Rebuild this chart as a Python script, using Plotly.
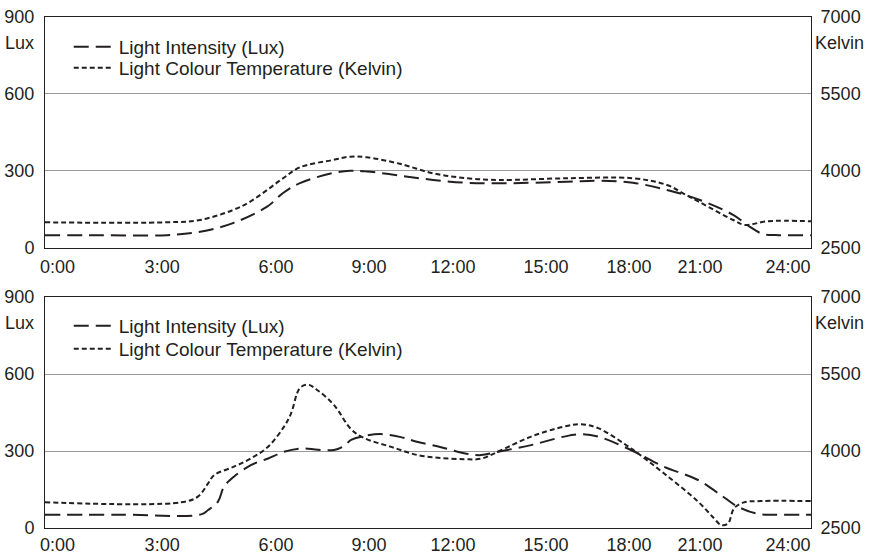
import plotly.graph_objects as go

# ---------------- data ----------------
tick_pos = [0.39, 3.67, 7.24, 10.15, 12.78, 15.70, 18.30, 20.52, 23.28]
tick_text = ["0:00", "3:00", "6:00", "9:00", "12:00", "15:00", "18:00", "21:00", "24:00"]

# top panel
top_lux_h = [0, 1.72, 3.82, 4.86, 5.89, 6.96, 7.46, 7.99, 9.02, 9.56, 10.09, 11.12, 12.16,
             13.22, 14.26, 16.36, 17.39, 18.42, 19.49, 20.52, 21.56, 22.09, 22.5, 23.0, 24]
top_lux = [50, 50, 50, 63, 97, 161, 214, 253, 292, 301, 298, 282, 265,
           254, 252, 258, 262, 254, 226, 187, 129, 82, 54, 50, 50]

top_k_h = [0, 3.82, 4.86, 5.89, 6.42, 6.96, 7.46, 7.99, 9.02, 9.56, 10.09, 11.12, 12.16,
           13.22, 14.26, 16.36, 18.42, 19.49, 19.99, 20.52, 21.56, 21.93, 22.62, 24]
top_k = [3000, 3000, 3045, 3240, 3400, 3630, 3858, 4072, 4214, 4279, 4266, 4140, 3955,
         3858, 3825, 3858, 3858, 3727, 3565, 3390, 3045, 2948, 3020, 3020]

# bottom panel
bot_lux_h = [0, 2.38, 4.89, 5.11, 5.42, 5.61, 5.92, 6.45, 6.99, 7.49, 8.02, 8.55, 9.05, 9.37,
             9.59, 9.99, 10.52, 11.15, 11.68, 12.41, 13.13, 13.66, 14.19, 15.23, 16.26, 16.79,
             17.33, 18.36, 19.39, 20.46, 21.27, 21.71, 22.34, 22.9, 24]
bot_lux = [52, 52, 53, 70, 103, 161, 200, 245, 271, 297, 310, 305, 304, 320,
           343, 358, 366, 354, 335, 315, 291, 284, 297, 323, 356, 365,
           356, 304, 239, 187, 120, 83, 55, 52, 52]

bot_k_h = [0, 4.26, 4.79, 5.11, 5.30, 5.92, 6.45, 6.99, 7.49, 7.71, 7.99, 8.25, 8.55, 9.05,
           9.59, 9.99, 10.85, 11.68, 12.41, 13.13, 13.66, 14.19, 15.23, 16.26, 16.79, 17.33,
           18.36, 19.39, 20.46, 20.96, 21.18, 21.40, 21.59, 21.90, 22.43, 24]
bot_k = [3000, 3000, 3110, 3370, 3530, 3695, 3855, 4085, 4475, 4735, 5230, 5290, 5180, 4900,
         4425, 4255, 4080, 3920, 3865, 3840, 3850, 3985, 4280, 4475, 4520, 4445,
         4050, 3565, 3015, 2690, 2560, 2590, 2885, 3000, 3025, 3025]

lux_ticks = [0, 300, 600, 900]
kelvin_ticks = [2500, 4000, 5500, 7000]

name_lux = "Light Intensity (Lux)"
name_k = "Light Colour Temperature (Kelvin)"

# ---------------- styles ----------------
INK = "#231f20"
FONT = "Liberation Sans, Arial, sans-serif"
lux_line = dict(color=INK, width=2, dash="15px,7px", shape="spline")
k_line = dict(color=INK, width=2, dash="5px,3px", shape="spline")

fig = go.Figure()
fig.add_trace(go.Scatter(x=top_lux_h, y=top_lux, mode="lines", name=name_lux,
                         line=lux_line, xaxis="x", yaxis="y", legend="legend"))
fig.add_trace(go.Scatter(x=top_k_h, y=top_k, mode="lines", name=name_k,
                         line=k_line, xaxis="x", yaxis="y2", legend="legend2"))
fig.add_trace(go.Scatter(x=bot_lux_h, y=bot_lux, mode="lines", name=name_lux,
                         line=lux_line, xaxis="x2", yaxis="y3", legend="legend3"))
fig.add_trace(go.Scatter(x=bot_k_h, y=bot_k, mode="lines", name=name_k,
                         line=k_line, xaxis="x2", yaxis="y4", legend="legend4"))

top_dom = [0.548, 1.0]
bot_dom = [0.0, 0.452]

xcommon = dict(range=[0, 24], tickvals=tick_pos, ticktext=tick_text, showgrid=False,
               zeroline=False, showline=True, linecolor=INK, linewidth=1, mirror=True,
               ticks="outside", tickcolor="rgba(0,0,0,0)", automargin=False,
               tickfont=dict(family=FONT, size=18, color=INK))
ylcommon = dict(range=[0, 900], tickvals=lux_ticks, showgrid=True, gridcolor="#9a9a9a",
                gridwidth=1, zeroline=False, showline=True, linecolor=INK, linewidth=1,
                ticks="outside", ticklen=6, tickcolor="rgba(0,0,0,0)", automargin=False,
                tickfont=dict(family=FONT, size=18, color=INK))
yrcommon = dict(range=[2500, 7000], tickvals=kelvin_ticks, showgrid=False, zeroline=False,
                showline=True, linecolor=INK, linewidth=1, side="right",
                ticks="outside", ticklen=5, tickcolor="rgba(0,0,0,0)", automargin=False,
                tickfont=dict(family=FONT, size=18, color=INK))

leg = dict(font=dict(family=FONT, size=19, color=INK), bgcolor="rgba(0,0,0,0)",
           xanchor="left", yanchor="middle", itemwidth=40)
LEG_X = 0.031

fig.update_layout(
    width=871, height=555,
    margin=dict(l=45, r=60, t=17, b=27, autoexpand=False),
    paper_bgcolor="white", plot_bgcolor="white",
    xaxis=dict(domain=[0, 1], anchor="y", ticklen=2, **xcommon),
    xaxis2=dict(domain=[0, 1], anchor="y3", ticklen=0, **xcommon),
    yaxis=dict(domain=top_dom, anchor="x", **ylcommon),
    yaxis2=dict(domain=top_dom, anchor="x", overlaying="y", **yrcommon),
    yaxis3=dict(domain=bot_dom, anchor="x2", **ylcommon),
    yaxis4=dict(domain=bot_dom, anchor="x2", overlaying="y3", **yrcommon),
    legend=dict(x=LEG_X, y=0.9413, **leg),
    legend2=dict(x=LEG_X, y=0.9002, **leg),
    legend3=dict(x=LEG_X, y=0.3953, **leg),
    legend4=dict(x=LEG_X, y=0.3503, **leg),
    showlegend=True,
)

ann_font = dict(family=FONT, size=18, color=INK)
for yref in ["y", "y3"]:
    fig.add_annotation(text="Lux", xref="paper", yref=yref, x=-0.012, y=800,
                       xanchor="right", yanchor="middle", showarrow=False, font=ann_font)
for yref in ["y2", "y4"]:
    fig.add_annotation(text="Kelvin", xref="paper", yref=yref, x=1.002, y=6500,
                       xanchor="left", yanchor="middle", showarrow=False, font=ann_font)

fig.write_html("out.html", config={"displayModeBar": False},
               post_script="document.body.style.margin='0';document.body.style.padding='0';")
